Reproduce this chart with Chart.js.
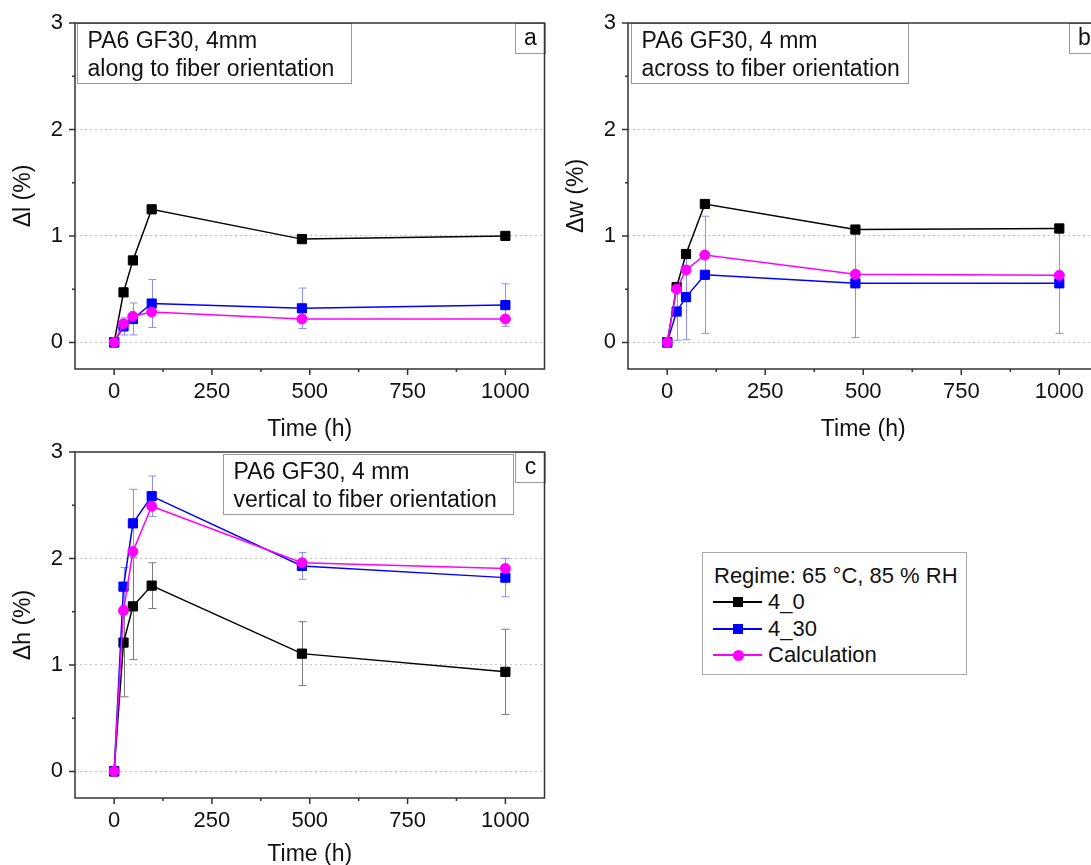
<!DOCTYPE html>
<html>
<head>
<meta charset="utf-8">
<script src="https://cdn.jsdelivr.net/npm/chart.js@4.4.0/dist/chart.umd.min.js"></script>
<style>
  html, body { margin: 0; padding: 0; background: #fff; overflow: hidden; width: 1091px; height: 865px; }
  body { position: relative; font-family: "Liberation Sans", Arial, sans-serif; }
  canvas { position: absolute; }
  #legend { position: absolute; left: 702px; top: 552px; width: 265px; height: 123px; border: 1px solid #aaa;
            box-sizing: border-box; font-size: 22px; color: #111; background: #fff; }
  #legend .txt { position: absolute; height: 26px; line-height: 26px; white-space: nowrap; }
  #legend .ln { position: absolute; width: 49px; height: 2px; }
  #legend .mk { position: absolute; }
</style>
</head>
<body>
<canvas id="chartA" width="552" height="450" style="left:0;top:0"></canvas>
<canvas id="chartB" width="553" height="450" style="left:553px;top:0"></canvas>
<canvas id="chartC" width="552" height="450" style="left:0;top:430px"></canvas>
<div id="legend"></div>
<script>
// time points (h)
var hours = [0, 24, 48, 96, 480, 1000];
var seriesNames = ['4_0', '4_30', 'Calculation'];
var legendTitle = 'Regime: 65 \u00B0C, 85 % RH';
var xTicks = [0, 250, 500, 750, 1000];
var yTicks = [0, 1, 2, 3];

// panel a - along to fiber orientation
var dl_4_0 = [0, 0.47, 0.77, 1.25, 0.97, 1.00];
var dl_4_30 = [0, 0.15, 0.22, 0.365, 0.32, 0.35];
var dl_4_30_err = [0, 0.08, 0.15, 0.225, 0.19, 0.20];
var dl_calc = [0, 0.175, 0.245, 0.285, 0.22, 0.22];

// panel b - across to fiber orientation
var dw_4_0 = [0, 0.52, 0.83, 1.30, 1.06, 1.07];
var dw_4_30 = [0, 0.29, 0.425, 0.635, 0.555, 0.555];
var dw_4_30_err = [0, 0.27, 0.40, 0.55, 0.51, 0.47];
var dw_calc = [0, 0.50, 0.68, 0.82, 0.64, 0.63];

// panel c - vertical to fiber orientation
var dh_4_0 = [0, 1.21, 1.55, 1.745, 1.106, 0.935];
var dh_4_0_err = [0, 0.51, 0.50, 0.215, 0.30, 0.40];
var dh_4_30 = [0, 1.735, 2.33, 2.585, 1.93, 1.82];
var dh_4_30_err = [0, 0.18, 0.32, 0.19, 0.125, 0.18];
var dh_calc = [0, 1.51, 2.065, 2.49, 1.96, 1.905];

var FONT = '"Liberation Sans", Arial, sans-serif';
var colors = ['#000000', '#0000ff', '#ff00ff'];
var errColors = ['#7a7a7a', '#8c8cff', '#ff8cff'];
var shapes = ['rect', 'rect', 'circle'];

Chart.defaults.font.family = FONT;
Chart.defaults.color = '#111';

function series(idx, values, errs) {
    return {
        label: seriesNames[idx],
        data: hours.map(function (h, i) { return { x: h, y: values[i] }; }),
        showLine: true,
        borderColor: colors[idx],
        backgroundColor: colors[idx],
        borderWidth: 1.5,
        pointStyle: shapes[idx],
        pointRadius: shapes[idx] == 'rect' ? 6.5 : 5,
        pointBorderWidth: 1,
        pointBorderColor: colors[idx],
        errors: errs,
        errorColor: errColors[idx],
        order: 3 - idx
    };
}

// vertical error bars, drawn under the lines
var errorBars = {
    id: 'errorBars',
    beforeDatasetsDraw: function (chart) {
        var ctx = chart.ctx;
        var xs = chart.scales.x, ys = chart.scales.y;
        chart.data.datasets.forEach(function (ds) {
            if (!ds.errors) return;
            ctx.save();
            ctx.strokeStyle = ds.errorColor;
            ctx.lineWidth = 1;
            ds.data.forEach(function (p, i) {
                var e = ds.errors[i];
                if (!e) return;
                var x = Math.round(xs.getPixelForValue(p.x)) + 0.5;
                var top = ys.getPixelForValue(p.y + e);
                var bot = ys.getPixelForValue(p.y - e);
                ctx.beginPath();
                ctx.moveTo(x, top); ctx.lineTo(x, bot);
                ctx.moveTo(x - 4, top); ctx.lineTo(x + 4, top);
                ctx.moveTo(x - 4, bot); ctx.lineTo(x + 4, bot);
                ctx.stroke();
            });
            ctx.restore();
        });
    }
};

// text boxes, frame and outward tick marks
var decor = {
    id: 'decor',
    afterDraw: function (chart, args, opts) {
        var ctx = chart.ctx, a = chart.chartArea;
        var xs = chart.scales.x, ys = chart.scales.y;
        ctx.save();
        ctx.font = '23px ' + FONT;
        ctx.textBaseline = 'middle';
        // note box
        var bx = Math.round(a.left + opts.left) + 0.5, by = Math.round(a.top + opts.top) + 0.5;
        ctx.fillStyle = '#fff';
        ctx.fillRect(bx, by, opts.width, opts.height);
        ctx.strokeStyle = '#999';
        ctx.lineWidth = 1;
        ctx.strokeRect(bx, by, opts.width, opts.height);
        ctx.fillStyle = '#111';
        opts.lines.forEach(function (t, i) {
            ctx.fillText(t, bx + 10, by + 18 + i * 28);
        });
        // panel letter
        var lx = Math.round(a.right - 30) + 0.5, ly = Math.round(a.top) + 0.5;
        ctx.fillStyle = '#fff';
        ctx.fillRect(lx, ly, 30, 30);
        ctx.strokeRect(lx, ly, 30, 30);
        ctx.fillStyle = '#111';
        ctx.textAlign = 'center';
        ctx.fillText(opts.letter, lx + 15, ly + 15);
        // frame
        ctx.strokeStyle = '#333';
        ctx.lineWidth = 1.5;
        ctx.strokeRect(a.left, a.top, a.width, a.height);
        // ticks
        ctx.beginPath();
        for (var v = 0; v <= 3; v += 0.5) {
            var py = ys.getPixelForValue(v);
            var len = yTicks.indexOf(v) >= 0 ? 6 : 3;
            ctx.moveTo(a.left, py); ctx.lineTo(a.left - len, py);
        }
        for (var h = 0; h <= 1000; h += 125) {
            var px = xs.getPixelForValue(h);
            var l2 = xTicks.indexOf(h) >= 0 ? 6 : 3;
            ctx.moveTo(px, a.bottom); ctx.lineTo(px, a.bottom + l2);
        }
        ctx.stroke();
        ctx.restore();
    }
};

function makeChart(id, datasets, yTitle, xHeight, padding, note) {
    return new Chart(document.getElementById(id), {
        type: 'scatter',
        data: { datasets: datasets },
        options: {
            responsive: false,
            animation: false,
            devicePixelRatio: 1,
            events: [],
            layout: { padding: padding },
            plugins: {
                legend: { display: false },
                tooltip: { enabled: false },
                decor: note
            },
            scales: {
                x: {
                    type: 'linear', min: -100, max: 1100,
                    afterBuildTicks: function (s) { s.ticks = xTicks.map(function (v) { return { value: v }; }); },
                    afterFit: function (s) { s.height = xHeight; },
                    border: { display: false },
                    grid: { drawOnChartArea: false, tickLength: 6, tickColor: 'rgba(0,0,0,0)' },
                    ticks: { autoSkip: false, maxRotation: 0, padding: 4, color: '#111', font: { size: 22 },
                             callback: function (v) { return String(v); } },
                    title: { display: true, text: 'Time (h)', color: '#111', font: { size: 23 },
                             padding: { top: 0, bottom: 0 } }
                },
                y: {
                    type: 'linear', min: -0.25, max: 3,
                    afterBuildTicks: function (s) { s.ticks = yTicks.map(function (v) { return { value: v }; }); },
                    afterFit: function (s) { s.width = 75; },
                    border: { display: false, dash: [2, 3] },
                    grid: {
                        color: function (c) {
                            var v = c.tick && c.tick.value;
                            return (v === 0 || v === 1 || v === 2) ? '#c4c4c4' : 'rgba(0,0,0,0)';
                        },
                        lineWidth: 1, tickLength: 6, tickColor: 'rgba(0,0,0,0)'
                    },
                    ticks: { padding: 6, color: '#111', font: { size: 22 },
                             callback: function (v) { return String(v); } },
                    title: { display: true, text: yTitle, color: '#111', font: { size: 23 },
                             padding: { top: 10, bottom: 0 } }
                }
            }
        },
        plugins: [errorBars, decor]
    });
}

makeChart('chartA', [
    series(0, dl_4_0, null),
    series(1, dl_4_30, dl_4_30_err),
    series(2, dl_calc, null)
], '\u0394l (%)', 74, { left: 0, top: 23, right: 7, bottom: 7 },
{ lines: ['PA6 GF30, 4mm', 'along to fiber orientation'], left: 2, top: 0, width: 274, height: 60, letter: 'a' });

makeChart('chartB', [
    series(0, dw_4_0, null),
    series(1, dw_4_30, dw_4_30_err),
    series(2, dw_calc, null)
], '\u0394w (%)', 74, { left: 0, top: 23, right: 7, bottom: 7 },
{ lines: ['PA6 GF30, 4 mm', 'across to fiber orientation'], left: 3, top: 0, width: 277, height: 60, letter: 'b' });

makeChart('chartC', [
    series(0, dh_4_0, dh_4_0_err),
    series(1, dh_4_30, dh_4_30_err),
    series(2, dh_calc, null)
], '\u0394h (%)', 70, { left: 0, top: 22, right: 7, bottom: 12 },
{ lines: ['PA6 GF30, 4 mm', 'vertical to fiber orientation'], left: 148, top: 2, width: 290, height: 60, letter: 'c' });

// legend box
var legendEl = document.getElementById('legend');
var title = document.createElement('div');
title.className = 'txt';
title.style.left = '11px';
title.style.top = '10px';
title.textContent = legendTitle;
legendEl.appendChild(title);
seriesNames.forEach(function (name, i) {
    var cy = Math.round(49 + i * 26.7);
    var ln = document.createElement('div');
    ln.className = 'ln';
    ln.style.left = '10px';
    ln.style.top = (cy - 1) + 'px';
    ln.style.background = colors[i];
    legendEl.appendChild(ln);
    var mk = document.createElement('div');
    mk.className = 'mk';
    var sz = shapes[i] == 'rect' ? 10 : 11;
    mk.style.width = sz + 'px';
    mk.style.height = sz + 'px';
    mk.style.left = (35 - sz / 2) + 'px';
    mk.style.top = (cy - sz / 2) + 'px';
    mk.style.background = colors[i];
    if (shapes[i] == 'circle') mk.style.borderRadius = '50%';
    legendEl.appendChild(mk);
    var t = document.createElement('div');
    t.className = 'txt';
    t.style.left = '65px';
    t.style.top = (cy - 13) + 'px';
    t.textContent = name;
    legendEl.appendChild(t);
});
</script>
</body>
</html>
